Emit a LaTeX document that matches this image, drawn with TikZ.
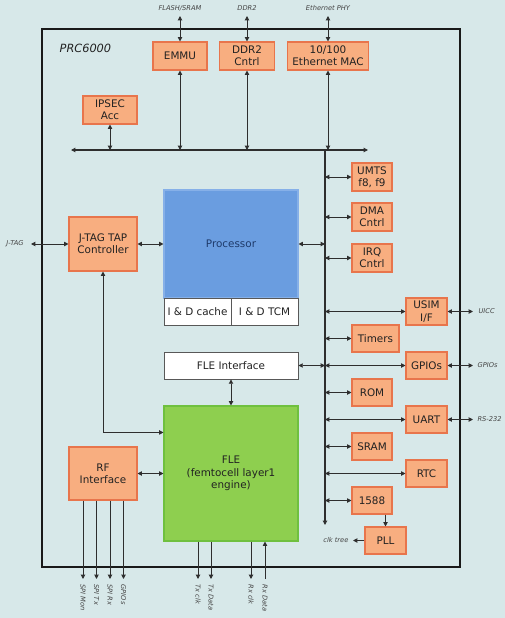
\documentclass[tikz,border=0pt]{standalone}
\usepackage{fontspec}
\setmainfont{DejaVu Sans}
\usetikzlibrary{arrows.meta}
\definecolor{bg}{HTML}{D7E8E9}
\definecolor{ofill}{HTML}{F8AE80}
\definecolor{oedge}{HTML}{E8754C}
\definecolor{bfill}{HTML}{6A9DE0}
\definecolor{bedge}{HTML}{86B0E8}
\definecolor{gfill}{HTML}{8ECF4F}
\definecolor{gedge}{HTML}{6FC03F}
\definecolor{lnk}{HTML}{2E2E2E}
\definecolor{txt}{HTML}{222222}
\definecolor{sigtxt}{HTML}{444444}
\definecolor{navy}{HTML}{1E3A6A}
\begin{document}
\begin{tikzpicture}[x=0.75pt,y=-0.75pt,
  >={Triangle[length=3.2pt,width=3.2pt]},
  font=\fontsize{7.8}{9.3}\selectfont,
  sz/.style 2 args={minimum width=#1*0.75pt, minimum height=#2*0.75pt},
  obox/.style={draw=oedge, fill=ofill, line width=0.8pt, inner sep=0pt, align=center, text=txt},
  wbox/.style={draw=lnk!80, fill=white, line width=0.7pt, inner sep=0pt, align=center, text=txt},
  link/.style={<->, line width=0.7pt, draw=lnk},
  oneway/.style={->, line width=0.7pt, draw=lnk},
  sig/.style={font=\fontsize{5}{6}\selectfont\itshape, text=sigtxt, inner sep=1pt}]
\fill[bg] (0,0) rectangle (505,618);
\useasboundingbox (0,0) rectangle (505,618);
% frame
\draw[line width=1pt, draw=black!90] (42,29) rectangle (460,567);
\node[anchor=west, font=\fontsize{8.5}{10}\selectfont\itshape, text=txt] (title) at (55,48) {PRC6000};

% top boxes
\node[obox, sz={54}{28}] (emmu) at (180,56) {EMMU};
\node[obox, sz={55}{28}] (ddr) at (247,56) {DDR2\\Cntrl};
\node[obox, sz={81}{28}] (eth) at (328,56) {10/100\\Ethernet MAC};
\node[obox, sz={54}{28}] (ipsec) at (110,110) {IPSEC\\Acc};

% top labels
\node[sig] (lflash) at (180,8) {FLASH/SRAM};
\node[sig] (lddr) at (247,8) {DDR2};
\node[sig] (leth) at (328,8) {Ethernet PHY};
\coordinate (tflash) at (180,16);
\coordinate (tddr) at (247,16);
\coordinate (teth) at (328,16);
\draw[link] (tflash) -- (emmu.north);
\draw[link] (tddr) -- (ddr.north);
\draw[link] (teth) -- (eth.north);

% buses
\coordinate (hbL) at (71,150);
\coordinate (hbR) at (368,150);
\coordinate (vbT) at (325,150);
\coordinate (vbB) at (325,525);
\draw[link, line width=0.8pt] (hbL) -- (hbR);
\draw[oneway, line width=0.8pt] (vbT) -- (vbB);
\draw[link] (emmu.south) -- (emmu.south |- hbL);
\draw[link] (ddr.south) -- (ddr.south |- hbL);
\draw[link] (eth.south) -- (eth.south |- hbL);
\draw[link] (ipsec.south) -- (ipsec.south |- hbL);

% processor
\node[fill=bfill, draw=bedge, line width=0.8pt, sz={134}{108}, text=navy, inner sep=0pt] (proc) at (231,244) {Processor};
\node[wbox, sz={67}{27}] (cache) at (197.5,311.5) {I \& D cache};
\node[wbox, sz={67}{27}] (tcm) at (264.5,311.5) {I \& D TCM};

% JTAG
\node[obox, sz={68}{54}] (jtag) at (103,244) {J-TAG TAP\\Controller};
\node[sig] (ljtag) at (15,244) {J-TAG};
\coordinate (tjtag) at (31,244);
\draw[link] (tjtag) -- (jtag.west);
\draw[link] (jtag.east) -- (jtag.east -| proc.west);
\draw[link] (proc.east) -- (proc.east -| vbT);

% FLE
\node[wbox, sz={134}{27}] (flei) at (231,365.5) {FLE Interface};
\node[fill=gfill, draw=gedge, line width=0.8pt, sz={134}{135}, align=center, text=txt, inner sep=0pt] (fle) at (231,473.5) {FLE\\(femtocell layer1\\engine)};
\node[obox, sz={68}{53}] (rf) at (103,473.5) {RF\\Interface};
\draw[link] (flei.south) -- (fle.north);
\draw[link] (flei.east) -- (flei.east -| vbT);
\draw[link] (jtag.south) |- ([yshift=-20.25pt]fle.north west);
\draw[link] (rf.east) -- (rf.east -| fle.west);

% right column
\node[obox, sz={40}{28}] (umts) at (372,177) {UMTS\\f8, f9};
\node[obox, sz={40}{28}] (dma) at (372,217) {DMA\\Cntrl};
\node[obox, sz={40}{28}] (irq) at (372,258) {IRQ\\Cntrl};
\node[obox, sz={41}{27}] (usim) at (426.5,311.5) {USIM\\I/F};
\node[obox, sz={47}{27}] (timers) at (375.5,338.5) {Timers};
\node[obox, sz={41}{27}] (gpios) at (426.5,365.5) {GPIOs};
\node[obox, sz={40}{27}] (rom) at (372,392.5) {ROM};
\node[obox, sz={41}{27}] (uart) at (426.5,419.5) {UART};
\node[obox, sz={40}{27}] (sram) at (372,446.5) {SRAM};
\node[obox, sz={41}{27}] (rtc) at (426.5,473.5) {RTC};
\node[obox, sz={40}{27}] (b1588) at (372,500.5) {1588};
\node[obox, sz={41}{27}] (pll) at (385.5,540.5) {PLL};

\foreach \b in {umts,dma,irq,usim,timers,gpios,rom,uart,sram,rtc,b1588}
  \draw[link] (\b.west -| vbT) -- (\b.west);

\draw[oneway] (b1588.south -| pll.north) -- (pll.north);

% right labels
\node[sig, anchor=west] (luicc) at (477,311.5) {UICC};
\node[sig, anchor=west] (lgpio) at (476,365.5) {GPIOs};
\node[sig, anchor=west] (lrs) at (476,419.5) {RS-232};
\coordinate (tuicc) at (473,311.5);
\coordinate (tgpio) at (473,365.5);
\coordinate (trs) at (473,419.5);
\draw[link] (usim.east) -- (tuicc);
\draw[link] (gpios.east) -- (tgpio);
\draw[link] (uart.east) -- (trs);

\node[sig, anchor=east] (lclk) at (350,540.5) {clk tree};
\coordinate (tclk) at (353,540.5);
\draw[oneway] (pll.west) -- (tclk);

% bottom signals
\coordinate (bsm) at (83,579);
\coordinate (bst) at (96.5,579);
\coordinate (bsr) at (110,579);
\coordinate (bsg) at (123.5,579);
\coordinate (btc) at (198,579);
\coordinate (btd) at (211,579);
\coordinate (brc) at (251,579);
\coordinate (brd) at (265,579);
\foreach \c in {bsm,bst,bsr,bsg}
  \draw[oneway] (\c |- rf.south) -- (\c);
\foreach \c in {btc,btd,brc}
  \draw[oneway] (\c |- fle.south) -- (\c);
\draw[oneway] (brd) -- (brd |- fle.south);

\node[sig, rotate=-90, anchor=west] (lsm) at (83,583) {SPI Mon};
\node[sig, rotate=-90, anchor=west] (lst) at (96.5,583) {SPI Tx};
\node[sig, rotate=-90, anchor=west] (lsr) at (110,583) {SPI Rx};
\node[sig, rotate=-90, anchor=west] (lsg) at (123.5,583) {GPIOs};
\node[sig, rotate=-90, anchor=west] (ltc) at (198,583) {Tx clk};
\node[sig, rotate=-90, anchor=west] (ltd) at (211,583) {Tx Data};
\node[sig, rotate=-90, anchor=west] (lrc) at (251,583) {Rx clk};
\node[sig, rotate=-90, anchor=west] (lrd) at (265,583) {Rx Data};
\end{tikzpicture}
\end{document}
